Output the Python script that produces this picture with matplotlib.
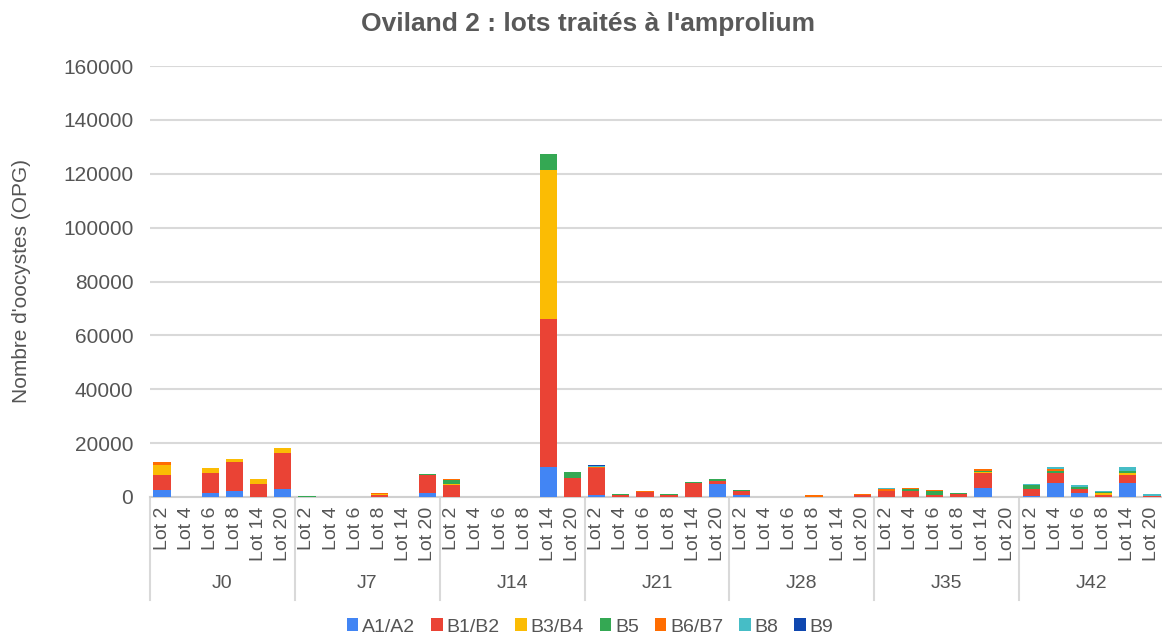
import matplotlib
matplotlib.use("Agg")
import matplotlib.pyplot as plt
import matplotlib.transforms as mtransforms
from matplotlib.patches import Patch
import numpy as np

plt.rcParams['font.family'] = ['Liberation Sans', 'DejaVu Sans']

days = ["J0", "J7", "J14", "J21", "J28", "J35", "J42"]
lots = ["Lot 2", "Lot 4", "Lot 6", "Lot 8", "Lot 14", "Lot 20"]

series_names = ["A1/A2", "B1/B2", "B3/B4", "B5", "B6/B7", "B8", "B9"]
colors = ["#4285F4", "#EA4335", "#FBBC04", "#34A853", "#FF6D01", "#46BDC6", "#0F47AF"]

A1A2 = [2700, 0, 1300, 2200, 0, 2900,
        0, 0, 0, 0, 0, 1300,
        0, 0, 0, 0, 11200, 0,
        900, 0, 0, 0, 0, 4700,
        600, 0, 0, 0, 0, 0,
        0, 0, 0, 0, 3400, 0,
        500, 5100, 1300, 0, 5100, 0]
B1B2 = [5300, 0, 7600, 10900, 5000, 13500,
        0, 0, 0, 750, 0, 7000,
        4400, 0, 0, 0, 54800, 7200,
        9700, 750, 1800, 750, 5200, 1300,
        1500, 0, 0, 0, 0, 600,
        2150, 2150, 750, 1000, 5450, 0,
        2400, 3800, 1650, 900, 3200, 500]
B3B4 = [3800, 0, 2000, 900, 1500, 1650,
        0, 0, 0, 250, 0, 0,
        300, 0, 0, 0, 55300, 0,
        0, 0, 0, 0, 0, 0,
        0, 0, 0, 0, 0, 0,
        250, 250, 0, 0, 400, 0,
        0, 0, 0, 400, 600, 0]
B5 = [0, 0, 0, 0, 0, 0,
      500, 0, 0, 0, 0, 400,
      1700, 0, 0, 0, 6200, 2000,
      0, 400, 0, 400, 400, 500,
      500, 0, 0, 0, 0, 0,
      0, 400, 1500, 400, 500, 0,
      1500, 600, 900, 400, 600, 0]
B6B7 = [1300, 0, 0, 0, 300, 0,
        0, 0, 0, 400, 0, 0,
        400, 0, 0, 0, 0, 0,
        500, 0, 500, 0, 0, 0,
        0, 0, 0, 600, 0, 400,
        600, 500, 400, 0, 500, 0,
        0, 1000, 0, 250, 0, 0]
B8 = [0, 0, 0, 0, 0, 0,
      0, 0, 0, 0, 0, 0,
      0, 0, 0, 0, 0, 0,
      500, 0, 0, 0, 0, 0,
      0, 0, 0, 0, 0, 0,
      400, 0, 0, 150, 0, 0,
      400, 500, 500, 400, 1500, 500]
B9 = [0, 0, 0, 0, 0, 0,
      0, 0, 0, 0, 0, 0,
      0, 0, 0, 0, 0, 0,
      200, 0, 0, 0, 0, 0,
      0, 0, 0, 0, 0, 0,
      0, 0, 0, 0, 0, 0,
      0, 0, 0, 0, 0, 0]

series = [A1A2, B1B2, B3B4, B5, B6B7, B8, B9]

W, H = 1162, 636
fig = plt.figure(figsize=(W / 100, H / 100), dpi=100)
left, right, top, bottom = 150, 1164, 66, 497
ax = fig.add_axes([left / W, (H - bottom) / H, (right - left) / W, (bottom - top) / H])

n = len(days) * len(lots)
x = np.arange(n)
base = np.zeros(n)
for name, vals, c in zip(series_names, series, colors):
    v = np.array(vals, dtype=float)
    ax.bar(x, v, bottom=base, width=0.72, color=c, label=name, zorder=3,
           linewidth=0)
    base += v

ax.set_xlim(-0.5, n - 0.5)
ax.set_ylim(0, 160000)
ax.set_yticks(np.arange(0, 160001, 20000))
ax.set_yticklabels([str(v) for v in range(0, 160001, 20000)], fontsize=15, color='#555555')
ax.tick_params(axis='y', length=0, pad=12)
ax.yaxis.grid(True, color='#d9d9d9', linewidth=1.5, zorder=0)
ax.set_axisbelow(True)
for s in ['top', 'right', 'left']:
    ax.spines[s].set_visible(False)
ax.spines['bottom'].set_color('#d0d0d0')
ax.spines['bottom'].set_linewidth(1.5)

ax.set_xticks(x)
ax.set_xticklabels(lots * len(days), rotation=90, fontsize=14, color='#555555')
ax.tick_params(axis='x', length=0, pad=7)

trans = mtransforms.blended_transform_factory(ax.transData, ax.transAxes)
sep_bottom = -(600 - bottom) / (bottom - top)
for i in range(len(days) + 1):
    xs = i * len(lots) - 0.5
    ax.plot([xs, xs], [0, sep_bottom], transform=trans, color='#d9d9d9',
            linewidth=1.5, clip_on=False)
label_y = -(583 - bottom) / (bottom - top)
for i, d in enumerate(days):
    ax.text(i * len(lots) + 2.5, label_y, d, transform=trans, ha='center', va='center',
            fontsize=14, color='#555555')

fig.text(22 / W, (H - 281) / H, "Nombre d'oocystes (OPG)", rotation=90, ha='center',
         va='center', fontsize=15, color='#555555')

fig.text(588 / W, 1 - 24 / H, "Oviland 2 : lots traités à l'amprolium", ha='center',
         va='center', fontsize=19, fontweight='bold', color='#595959')

handles = [Patch(facecolor=c, edgecolor='none') for c in colors]
fig.legend(handles, series_names, loc='center', bbox_to_anchor=(590 / W, 1 - 627 / H),
           ncol=7, frameon=False, fontsize=14, handlelength=0.6, handleheight=0.6,
           handletextpad=0.2, columnspacing=0.8, labelcolor='#555555')

fig.savefig("out.png", dpi=100)
